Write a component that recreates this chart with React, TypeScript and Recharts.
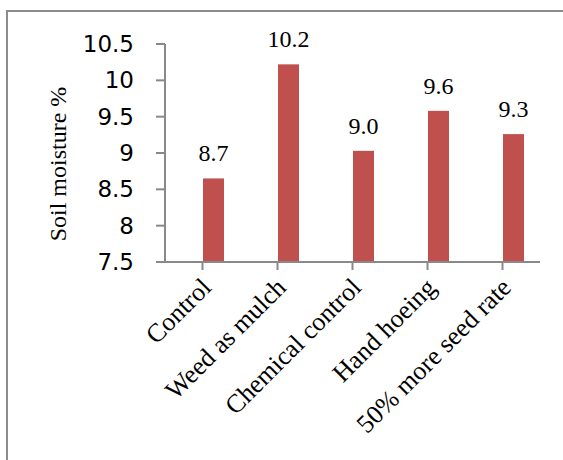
import React from 'react';
import { BarChart, Bar, XAxis, YAxis, LabelList } from 'recharts';

const treatments = ['Control', 'Weed as mulch', 'Chemical control', 'Hand hoeing', '50% more seed rate'];
const moisture = [8.65, 10.22, 9.03, 9.58, 9.26];
const yTicks = [7.5, 8, 8.5, 9, 9.5, 10, 10.5];

const data = treatments.map((name, i) => ({ name, value: moisture[i] }));

// bars in the source sit a little right of the category centre
const SHIFT = 11;
const BAR_COLOR = '#C0504D';
const AXIS_COLOR = '#898989';
const SERIF = '"Liberation Serif", "Times New Roman", serif';

const ShiftedBar = (props: any) => {
  const { x, y, width, height } = props;
  return <rect x={x + SHIFT} y={y} width={width} height={height} fill={BAR_COLOR} />;
};

const ValueLabel = (props: any) => {
  const { x, y, width, value } = props;
  return (
    <text
      x={x + width / 2 + SHIFT}
      y={y - 17}
      textAnchor="middle"
      fontFamily={SERIF}
      fontSize={24}
      fill="#000"
    >
      {Number(value).toFixed(1)}
    </text>
  );
};

const CategoryTick = (props: any) => {
  const { x, y, payload } = props;
  const ax = x + SHIFT - 1;
  const ay = y + 17;
  return (
    <text
      x={ax}
      y={ay}
      textAnchor="end"
      fontFamily={SERIF}
      fontSize={26}
      fill="#000"
      transform={`rotate(-45, ${ax}, ${ay})`}
    >
      {payload.value}
    </text>
  );
};

const AxisTitle = (props: any) => {
  const { viewBox } = props;
  const cx = 66;
  const cy = viewBox.y + viewBox.height / 2 + 11;
  return (
    <text
      x={cx}
      y={cy}
      textAnchor="middle"
      fontFamily={SERIF}
      fontSize={24}
      fill="#000"
      transform={`rotate(-90, ${cx}, ${cy})`}
    >
      Soil moisture %
    </text>
  );
};

export default function App() {
  return (
    <div style={{ position: 'fixed', left: 0, top: 0, width: 563, height: 460, background: '#fff', overflow: 'hidden' }}>
      <div
        style={{
          position: 'absolute',
          left: 6,
          top: 10,
          right: -10,
          bottom: -10,
          borderLeft: '2px solid #8c8c8c',
          borderTop: '2px solid #8c8c8c',
        }}
      />
      <div style={{ position: 'absolute', left: 0, top: 0 }}>
        <BarChart width={563} height={460} data={data} margin={{ top: 44, right: 23, left: 0, bottom: 48 }}>
          <XAxis
            dataKey="name"
            height={150}
            interval={0}
            tick={<CategoryTick />}
            tickSize={8}
            axisLine={{ stroke: AXIS_COLOR, strokeWidth: 2 }}
            tickLine={{ stroke: AXIS_COLOR, strokeWidth: 2 }}
          />
          <YAxis
            width={165}
            domain={[7.5, 10.5]}
            ticks={yTicks}
            interval={0}
            allowDataOverflow
            tickSize={9}
            tickMargin={22}
            axisLine={{ stroke: AXIS_COLOR, strokeWidth: 2 }}
            tickLine={{ stroke: AXIS_COLOR, strokeWidth: 2 }}
            tick={{ fill: '#000', fontSize: 23, fontFamily: '"DejaVu Sans", sans-serif' }}
            label={<AxisTitle />}
          />
          <Bar dataKey="value" barSize={21} shape={<ShiftedBar />} isAnimationActive={false}>
            <LabelList dataKey="value" content={<ValueLabel />} />
          </Bar>
        </BarChart>
      </div>
    </div>
  );
}
